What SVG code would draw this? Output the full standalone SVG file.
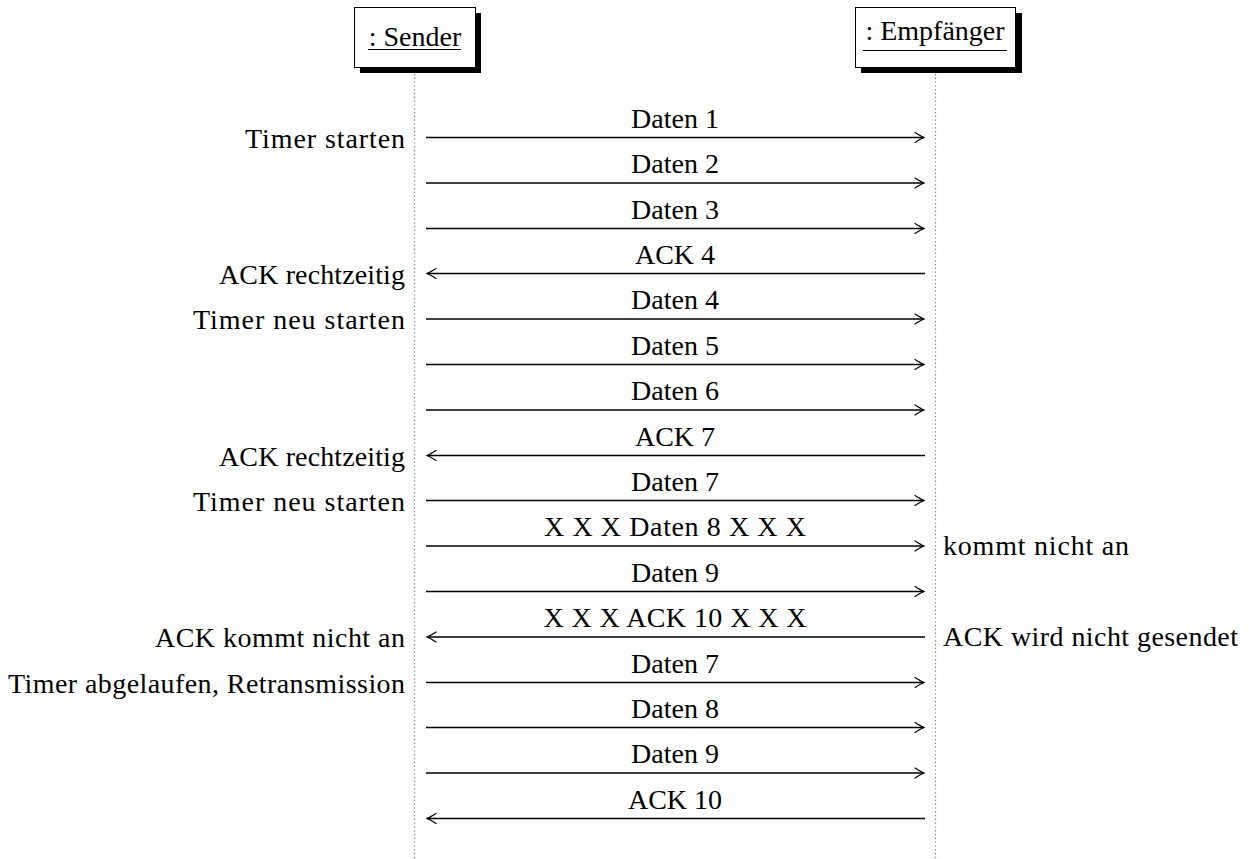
<svg xmlns="http://www.w3.org/2000/svg" width="1249" height="859" viewBox="0 0 1249 859">
<style>
text{font-family:'Liberation Serif','Times New Roman',serif;font-size:28px;fill:#000}
.c{text-anchor:middle}
.l{text-anchor:end}
.box{fill:#fff;stroke:#000;stroke-width:1}
.shadow{fill:#000}
.life{stroke:#777;stroke-width:1.2;stroke-dasharray:1.2 2.6}
.msg{stroke:#000;stroke-width:1.4;fill:none;marker-end:url(#open)}
.ul{stroke:#000;stroke-width:1}
</style>
<defs>
<marker id="open" markerUnits="userSpaceOnUse" markerWidth="14" markerHeight="14" viewBox="-12 -7 14 14" refX="0" refY="0" orient="auto">
<path d="M -9 -5 Q -3 -1.2 0 0 Q -3 1.2 -9 5" fill="none" stroke="#000" stroke-width="1.2" stroke-linecap="round"/>
</marker>
</defs>
<g id="sender">
<rect class="shadow" x="360" y="13" width="121" height="60"/>
<rect class="box" x="354.5" y="7.5" width="121" height="60"/>
<text class="c" x="415" y="46">: Sender</text>
<line class="ul" x1="368" y1="49.5" x2="461" y2="49.5"/>
<line class="life" x1="414.5" y1="74" x2="414.5" y2="858"/>
</g>
<g id="empfaenger">
<rect class="shadow" x="861" y="13" width="161" height="60"/>
<rect class="box" x="855.5" y="7.5" width="160" height="60"/>
<text class="c" x="935" y="40">: Empfänger</text>
<line class="ul" x1="863" y1="50.5" x2="1007" y2="50.5"/>
<line class="life" x1="935.5" y1="74" x2="935.5" y2="858"/>
</g>
<g id="connectors">
<line class="msg" x1="426" y1="137.5" x2="924" y2="137.5"/>
<line class="msg" x1="426" y1="183" x2="924" y2="183"/>
<line class="msg" x1="426" y1="228.5" x2="924" y2="228.5"/>
<line class="msg" x1="925" y1="273.5" x2="427" y2="273.5"/>
<line class="msg" x1="426" y1="319" x2="924" y2="319"/>
<line class="msg" x1="426" y1="364.5" x2="924" y2="364.5"/>
<line class="msg" x1="426" y1="410" x2="924" y2="410"/>
<line class="msg" x1="925" y1="455.5" x2="427" y2="455.5"/>
<line class="msg" x1="426" y1="500.5" x2="924" y2="500.5"/>
<line class="msg" x1="426" y1="546" x2="924" y2="546"/>
<line class="msg" x1="426" y1="591.5" x2="924" y2="591.5"/>
<line class="msg" x1="925" y1="637" x2="427" y2="637"/>
<line class="msg" x1="426" y1="682.5" x2="924" y2="682.5"/>
<line class="msg" x1="426" y1="727.5" x2="924" y2="727.5"/>
<line class="msg" x1="426" y1="773" x2="924" y2="773"/>
<line class="msg" x1="925" y1="818.5" x2="427" y2="818.5"/>
</g>
<g id="message-labels">
<text class="c" x="675" y="128">Daten 1</text>
<text class="c" x="675" y="173">Daten 2</text>
<text class="c" x="675" y="218.5">Daten 3</text>
<text class="c" x="675" y="263.5">ACK 4</text>
<text class="c" x="675" y="309">Daten 4</text>
<text class="c" x="675" y="354.5">Daten 5</text>
<text class="c" x="675" y="400">Daten 6</text>
<text class="c" x="675" y="445.5">ACK 7</text>
<text class="c" x="675" y="490.5">Daten 7</text>
<text class="c" x="675" y="536" textLength="262" lengthAdjust="spacing">X X X Daten 8 X X X</text>
<text class="c" x="675" y="581.5">Daten 9</text>
<text class="c" x="675" y="627" textLength="263" lengthAdjust="spacing">X X X ACK 10 X X X</text>
<text class="c" x="675" y="672.5">Daten 7</text>
<text class="c" x="675" y="717.5">Daten 8</text>
<text class="c" x="675" y="763">Daten 9</text>
<text class="c" x="675" y="808.5">ACK 10</text>
</g>
<g id="sender-notes">
<text class="l" x="405" y="147.5" textLength="160" lengthAdjust="spacing">Timer starten</text>
<text class="l" x="405" y="283.5" textLength="186" lengthAdjust="spacing">ACK rechtzeitig</text>
<text class="l" x="405" y="329" textLength="212" lengthAdjust="spacing">Timer neu starten</text>
<text class="l" x="405" y="465.5" textLength="186" lengthAdjust="spacing">ACK rechtzeitig</text>
<text class="l" x="405" y="510.5" textLength="212" lengthAdjust="spacing">Timer neu starten</text>
<text class="l" x="405" y="647" textLength="250" lengthAdjust="spacing">ACK kommt nicht an</text>
<text class="l" x="405" y="692.5" textLength="397" lengthAdjust="spacing">Timer abgelaufen, Retransmission</text>
</g>
<g id="receiver-notes">
<text x="943" y="555" textLength="186" lengthAdjust="spacing">kommt nicht an</text>
<text x="943" y="646" textLength="295" lengthAdjust="spacing">ACK wird nicht gesendet</text>
</g>
</svg>
